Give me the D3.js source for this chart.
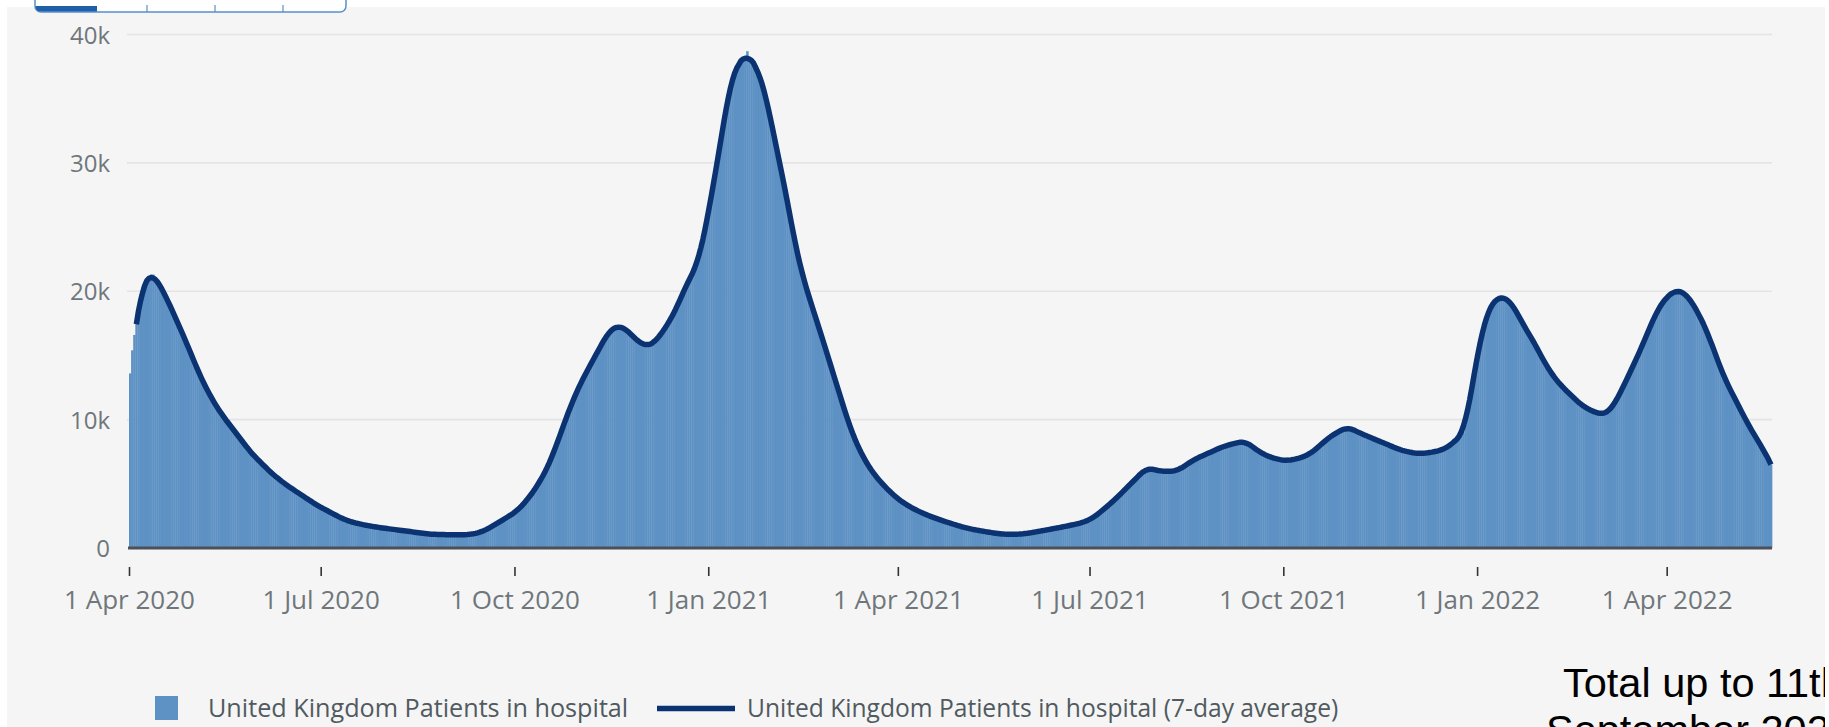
<!DOCTYPE html>
<html><head><meta charset="utf-8">
<script src="https://cdn.jsdelivr.net/npm/d3@7"></script>
<style>
html,body{margin:0;padding:0;background:#fff;overflow:hidden}
svg{display:block}
</style></head><body>
<svg id="chart" width="1829" height="727"></svg>
<script>
// ---------- data ----------
const startDate = "2020-04-01"; // first daily bar
const patients = [
13600,15400,16600,17500,18700,19800,20400,20800,21000,21200,
21300,21300,21100,20800,20500,20200,19900,19600,19300,18900,
18500,18100,17800,17400,17000,16700,16300,15900,15500,15100,
14700,14300,13900,13500,13200,12800,12500,12200,11900,11600,
11300,11000,10800,10500,10300,10100,9900,9700,9400,9200,
9000,8800,8600,8400,8200,7900,7700,7500,7300,7200,
7000,6800,6700,6500,6300,6200,6000,5900,5700,5550,
5450,5300,5200,5100,4950,4800,4700,4600,4500,4400,
4300,4160,4050,3950,3850,3750,3650,3500,3400,3300,
3200,3150,3050,2950,2900,2800,2700,2600,2500,2450,
2350,2300,2200,2150,2070,2030,2000,1950,1910,1870,
1830,1800,1770,1740,1710,1680,1650,1630,1600,1580,
1560,1530,1510,1490,1470,1450,1430,1410,1390,1370,
1350,1330,1300,1280,1260,1230,1210,1190,1160,1140,
1120,1090,1080,1070,1070,1060,1060,1050,1050,1050,
1040,1040,1030,1030,1030,1020,1020,1020,1030,1030,
1040,1050,1070,1100,1130,1170,1210,1250,1330,1420,
1510,1600,1700,1790,1890,1990,2090,2190,2300,2400,
2500,2600,2700,2800,2900,3100,3300,3500,3650,3800,
4050,4300,4550,4800,5000,5300,5600,5900,6200,6600,
7000,7350,7800,8300,8750,9200,9650,10100,10550,11000,
11400,11800,12150,12500,12850,13200,13500,13800,14100,14400,
14700,15000,15300,15600,15900,16200,16500,16800,17000,17100,
17200,17250,17300,17250,17200,17100,17000,16800,16600,16400,
16300,16100,16000,15900,15800,15750,15750,15800,15900,16000,
16200,16400,16700,16900,17100,17400,17600,17900,18200,18600,
18900,19300,19700,20100,20400,20800,21100,21400,21700,22000,
22400,23200,24000,24800,25700,26500,27400,28400,29300,30300,
31300,32300,33300,34300,35300,36200,36700,37200,37600,37800,
38000,38100,38200,38700,38200,38000,37800,37600,37300,36800,
36300,35700,35100,34400,33500,32700,31900,31000,30300,29500,
28800,27900,27100,26200,25200,24300,23500,22800,22000,21400,
20800,20300,19700,19200,18700,18200,17700,17200,16700,16100,
15600,15100,14600,14000,13500,13000,12400,11900,11400,10900,
10300,9800,9300,8900,8500,8100,7800,7400,7100,6800,
6500,6300,6000,5800,5600,5400,5200,5000,4850,4700,
4500,4350,4200,4000,3900,3780,3660,3550,3430,3320,
3230,3150,3060,2970,2880,2800,2730,2660,2600,2530,
2460,2400,2340,2280,2230,2170,2110,2060,2000,1950,
1900,1850,1800,1750,1700,1650,1600,1560,1510,1480,
1450,1420,1390,1360,1330,1300,1270,1250,1220,1200,
1170,1150,1120,1100,1090,1080,1080,1070,1070,1070,
1070,1070,1080,1080,1090,1110,1140,1170,1200,1230,
1260,1290,1310,1340,1370,1400,1430,1470,1500,1530,
1560,1590,1620,1650,1680,1720,1750,1790,1820,1860,
1890,1930,1980,2030,2090,2150,2250,2350,2460,2580,
2700,2840,2980,3120,3260,3400,3550,3700,3860,4010,
4160,4330,4500,4660,4830,5000,5160,5320,5480,5640,
5800,6000,6200,6230,6200,6150,6100,6060,6020,6000,
5980,5960,5960,5960,5970,5980,5990,6000,6100,6210,
6320,6430,6540,6650,6760,6870,6980,7040,7090,7170,
7240,7320,7390,7470,7540,7610,7690,7760,7840,7910,
7960,8000,8050,8090,8130,8170,8210,8250,8290,8330,
8250,8120,8000,7870,7750,7630,7520,7410,7300,7230,
7160,7100,7050,7000,6950,6900,6870,6840,6820,6800,
6820,6850,6880,6910,6950,7000,7050,7100,7150,7210,
7330,7460,7580,7700,7830,7990,8150,8310,8470,8580,
8690,8800,8900,9000,9090,9180,9260,9350,9440,9360,
9270,9190,9100,9010,8940,8870,8810,8750,8680,8600,
8530,8460,8390,8320,8260,8200,8130,8060,7990,7920,
7850,7770,7700,7630,7590,7560,7520,7490,7450,7420,
7380,7350,7360,7370,7390,7400,7420,7430,7450,7490,
7530,7570,7610,7650,7690,7800,7920,8050,8180,8320,
8470,8650,8820,9000,9600,10500,11500,12500,13500,14400,
15300,16200,16900,17600,18200,18600,18900,19100,19300,19450,
19550,19600,19550,19500,19350,19200,19000,18750,18500,18200,
17850,17500,17200,16950,16700,16450,16200,15900,15550,15250,
14900,14600,14350,14050,13800,13550,13350,13100,12900,12700,
12550,12400,12230,12070,11900,11750,11600,11450,11300,11150,
11000,10920,10850,10770,10700,10620,10550,10470,10400,10420,
10450,10500,10650,10800,11050,11300,11600,11930,12270,12600,
12950,13300,13650,14000,14350,14700,15050,15400,15800,16200,
16600,17000,17380,17750,18130,18500,18750,19000,19250,19500,
19620,19750,19870,20000,20050,20050,20050,20000,19850,19680,
19500,19250,19000,18750,18500,18130,17770,17400,17100,16800,
16320,15850,15370,14900,14480,14050,13630,13200,12880,12560,
12240,11920,11600,11280,10950,10630,10300,10000,9700,9400,
9100,8840,8570,8310,8050,7770,7480,7200,6850,6500
];
const yTicks = [0, 10000, 20000, 30000, 40000];
const yTickLabels = ["0", "10k", "20k", "30k", "40k"];
const xTickDates = ["2020-04-01","2020-07-01","2020-10-01","2021-01-01","2021-04-01","2021-07-01","2021-10-01","2022-01-01","2022-04-01"];
const xTickLabels = ["1 Apr 2020","1 Jul 2020","1 Oct 2020","1 Jan 2021","1 Apr 2021","1 Jul 2021","1 Oct 2021","1 Jan 2022","1 Apr 2022"];
const seriesNames = ["United Kingdom Patients in hospital", "United Kingdom Patients in hospital (7-day average)"];
const noteLines = ["Total up to 11th", "September 2022"];

// ---------- derived ----------
const parse = d3.utcParse("%Y-%m-%d");
const d0 = parse(startDate);
const dates = patients.map((_, i) => d3.utcDay.offset(d0, i));
const rows = dates.map((d, i) => ({date: d, value: patients[i]}));
// centred 7-day average; near the last day the window shrinks symmetrically
const avgRows = [];
const N = patients.length;
for (let i = 3; i < N; i++) {
  const h = Math.min(3, N - 1 - i);
  avgRows.push({date: dates[i], value: d3.mean(patients.slice(i - h, i + h + 1))});
}

// ---------- layout ----------
const H = 727;
const plot = {left: 129, right: 1772, top: 34.5, bottom: 548};
const svg = d3.select("#chart");

const COL = {
  panel: "#f5f5f5", bar: "#5e91c4", line: "#0b3372", grid: "#e4e4e4",
  axis: "#4b5157", text: "#6f777b", legendText: "#505a5f", tab: "#5a8fc8", tabActive: "#1d5fa8"
};
const FONT = "'Open Sans', Roboto, sans-serif";

svg.append("rect").attr("x", 7).attr("y", 7).attr("width", 1818).attr("height", H - 7).attr("fill", COL.panel);

// tab strip at the top (cut off)
const tabs = svg.append("g");
tabs.append("rect").attr("x", 35).attr("y", -14).attr("width", 311).attr("height", 26).attr("rx", 6)
  .attr("fill", "#fff").attr("stroke", COL.tab).attr("stroke-width", 1.5);
tabs.append("path").attr("d", "M35.5,6 L97,6 L97,11.5 L41,11.5 Q35.5,11.5 35.5,6 Z").attr("fill", COL.tabActive);
[147, 215, 283].forEach(tx => tabs.append("line").attr("x1", tx).attr("x2", tx).attr("y1", 5).attr("y2", 12)
  .attr("stroke", COL.tab).attr("stroke-width", 1.2));

const x = d3.scaleUtc()
  .domain([dates[0], d3.utcDay.offset(dates[N - 1], 1)])
  .range([plot.left, plot.right]);
const y = d3.scaleLinear().domain([0, 40000]).range([plot.bottom, plot.top]);

// gridlines
svg.append("g").selectAll("line").data(yTicks.filter(t => t > 0)).join("line")
  .attr("x1", plot.left - 2).attr("x2", plot.right)
  .attr("y1", d => y(d)).attr("y2", d => y(d))
  .attr("stroke", COL.grid).attr("stroke-width", 1.6);

// bars
svg.append("g").selectAll("rect").data(rows).join("rect")
  .attr("x", d => x(d.date))
  .attr("width", d => x(d3.utcDay.offset(d.date, 1)) - x(d.date) + 0.35)
  .attr("y", d => y(d.value))
  .attr("height", d => y(0) - y(d.value))
  .attr("fill", COL.bar);

// 7-day average line
const half = (x(dates[1]) - x(dates[0])) / 2;
svg.append("path").datum(avgRows)
  .attr("d", d3.line().x(d => x(d.date) + half).y(d => y(d.value)))
  .attr("fill", "none").attr("stroke", COL.line).attr("stroke-width", 5.5)
  .attr("stroke-linejoin", "round").attr("stroke-linecap", "butt");

// zero baseline
svg.append("line").attr("x1", plot.left - 1).attr("x2", plot.right)
  .attr("y1", y(0)).attr("y2", y(0)).attr("stroke", COL.axis).attr("stroke-width", 3);

// y axis labels
const yAxis = svg.append("g").attr("transform", "translate(110,0)")
  .call(d3.axisLeft(y).tickValues(yTicks).tickFormat((d, i) => yTickLabels[i]).tickSize(0).tickPadding(0));
yAxis.select(".domain").remove();
yAxis.selectAll("text").attr("font-family", FONT).attr("font-size", 24).attr("fill", COL.text).attr("dy", "0.36em");

// x axis
const xAxis = svg.append("g").attr("transform", "translate(0,567)")
  .call(d3.axisBottom(x).tickValues(xTickDates.map(parse)).tickFormat((d, i) => xTickLabels[i]).tickSize(9).tickPadding(14.5));
xAxis.select(".domain").remove();
xAxis.selectAll(".tick line").attr("stroke", "#333").attr("stroke-width", 1.6);
xAxis.selectAll("text").attr("font-family", FONT).attr("font-size", 26).attr("fill", COL.text);

// legend
const lg = svg.append("g").attr("font-family", FONT).attr("fill", COL.legendText);
lg.append("rect").attr("x", 155).attr("y", 696).attr("width", 23).attr("height", 24).attr("fill", COL.bar);
lg.append("text").attr("x", 208).attr("y", 717).attr("font-size", 25.2).text(seriesNames[0]);
lg.append("line").attr("x1", 657).attr("x2", 735).attr("y1", 708.5).attr("y2", 708.5)
  .attr("stroke", COL.line).attr("stroke-width", 5.5);
lg.append("text").attr("x", 747).attr("y", 717).attr("font-size", 24.6).text(seriesNames[1]);

// annotation (clipped at the panel edge, as in the source)
svg.append("clipPath").attr("id", "noteClip").append("rect").attr("x", 0).attr("y", 0).attr("width", 1825).attr("height", H);
const note = svg.append("g").attr("clip-path", "url(#noteClip)")
  .attr("font-family", "'Liberation Sans', Arial, sans-serif").attr("font-size", 41.5).attr("fill", "#000");
note.append("text").attr("x", 1563).attr("y", 697).text(noteLines[0]);
note.append("text").attr("x", 1546).attr("y", 744).text(noteLines[1]);
</script>
</body></html>
